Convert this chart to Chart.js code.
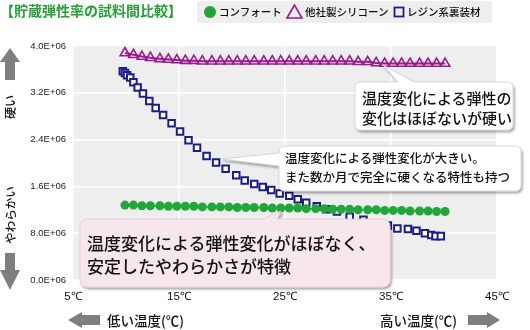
<!DOCTYPE html>
<html>
<head>
<meta charset="utf-8">
<script src="https://cdn.jsdelivr.net/npm/chart.js@4.4.0/dist/chart.umd.min.js"></script>
<style>
  html, body { margin: 0; padding: 0; background: #fff; }
  #wrap { position: relative; width: 530px; height: 330px; overflow: hidden;
          font-family: "Noto Sans CJK JP", sans-serif; color: #111; }
  #chart { position: absolute; left: 0; top: 0; }
  svg { position: absolute; left: 0; top: 0; }
  .t { position: absolute; white-space: nowrap; font-weight: 500; }
</style>
</head>
<body>
<div id="wrap">
  <canvas id="chart" width="530" height="330"></canvas>
  <svg width="530" height="330">
    <defs>
      <filter id="sh" x="-10%" y="-20%" width="130%" height="150%">
        <feDropShadow dx="1.5" dy="2" stdDeviation="1.2" flood-color="#000" flood-opacity="0.35"/>
      </filter>
    </defs>
    <!-- legend box -->
    <rect x="197" y="1" width="295" height="22" fill="#eeeeee"/>
    <circle cx="210" cy="12" r="6" fill="#22a63a"/>
    <polygon points="294.5,5 287,18 302,18" fill="none" stroke="#9b1a8e" stroke-width="1.6"/>
    <rect x="394.5" y="7.5" width="9" height="9" fill="none" stroke="#1c1c8c" stroke-width="1.8"/>
    <!-- side arrows -->
    <polygon points="10,48 0,62 20,62" fill="#7f7f7f"/>
    <rect x="5" y="62" width="10" height="18" fill="#7f7f7f"/>
    <rect x="5" y="253" width="10" height="17" fill="#7f7f7f"/>
    <polygon points="0,270 20,270 10,290" fill="#7f7f7f"/>
    <polygon points="68,320 82,312 82,328" fill="#7f7f7f"/>
    <rect x="82" y="315" width="18" height="10" fill="#7f7f7f"/>
    <rect x="468" y="315" width="19" height="10" fill="#7f7f7f"/>
    <polygon points="487,312 487,328 500,320" fill="#7f7f7f"/>
    <!-- callouts -->
    <path filter="url(#sh)" fill="#fff" stroke="#cfcfcf" stroke-width="0.8"
      d="M361,82 L398,82 L383,65 L414,82 L507,82 Q513,82 513,88 L513,124 Q513,130 507,130 L361,130 Q355,130 355,124 L355,88 Q355,82 361,82 Z"/>
    <path filter="url(#sh)" fill="#fff" stroke="#cfcfcf" stroke-width="0.8"
      d="M285,146 L515,146 Q521,146 521,152 L521,185 Q521,191 515,191 L285,191 Q279,191 279,185 L279,166 L222,159 L279,153 L279,152 Q279,146 285,146 Z"/>
    <path filter="url(#sh)" fill="#f7e6eb" stroke="#e3c9d2" stroke-width="0.8"
      d="M88,219 L263,219 L281,211 L277,219 L382,219 Q390,219 390,227 L390,279 Q390,287 382,287 L88,287 Q80,287 80,279 L80,227 Q80,219 88,219 Z"/>
  </svg>

  <div class="t" style="left:0;top:0;font-size:14px;line-height:20px;font-weight:bold;color:#27a036;">【貯蔵弾性率の試料間比較】</div>
  <div class="t" style="left:219px;top:4px;font-size:10.5px;line-height:16px;">コンフォート</div>
  <div class="t" style="left:305px;top:4px;font-size:10.5px;line-height:16px;">他社製シリコーン</div>
  <div class="t" style="left:407px;top:4px;font-size:10.5px;line-height:16px;">レジン系裏装材</div>

  <div class="t" style="left:10px;top:107px;font-size:12px;line-height:14px;transform:translate(-50%,-50%) rotate(-90deg);">硬い</div>
  <div class="t" style="left:10px;top:215px;font-size:11.5px;line-height:14px;transform:translate(-50%,-50%) rotate(-90deg);">やわらかい</div>

  <div class="t" style="left:107px;top:311px;font-size:13.5px;line-height:18px;">低い温度(℃)</div>
  <div class="t" style="left:380px;top:311px;font-size:13.5px;line-height:18px;">高い温度(℃)</div>

  <div class="t" style="left:362px;top:88px;font-size:15px;line-height:19.5px;">温度変化による弾性の<br>変化はほぼないが硬い</div>
  <div class="t" style="left:285px;top:148px;font-size:12.5px;line-height:19px;">温度変化による弾性変化が大きい。<br>また数か月で完全に硬くなる特性も持つ</div>
  <div class="t" style="left:87px;top:231px;font-size:17px;line-height:23px;">温度変化による弾性変化がほぼなく、<br>安定したやわらかさが特徴</div>
</div>

<script>
// temperature (℃) / storage modulus values
const tempTicks = [5, 15, 25, 35, 45];
const tempLabels = ['5℃', '15℃', '25℃', '35℃', '45℃'];
const modTicks = [0, 0.8e6, 1.6e6, 2.4e6, 3.2e6, 4.0e6];
const modLabels = ['0.0E+06', '8.0E+06', '1.6E+06', '2.4E+06', '3.2E+06', '4.0E+06'];

const seriesNames = ['コンフォート', '他社製シリコーン', 'レジン系裏装材'];

// shared temperatures for the two flat series
const flatTemps = [9.9, 10.7, 11.5, 12.3, 13.2, 14.0, 14.8, 15.6, 16.4, 17.2,
  18.1, 18.9, 19.7, 20.5, 21.3, 22.1, 23.0, 23.8, 24.6, 25.4,
  26.2, 27.0, 27.9, 28.7, 29.5, 30.3, 31.1, 31.9, 32.8, 33.6,
  34.4, 35.2, 36.0, 36.8, 37.7, 38.5, 39.3, 40.1];

const comfortVals = [1.28e6, 1.28e6, 1.27e6, 1.27e6, 1.27e6, 1.26e6, 1.26e6, 1.26e6, 1.26e6, 1.25e6,
  1.25e6, 1.25e6, 1.25e6, 1.24e6, 1.24e6, 1.24e6, 1.24e6, 1.23e6, 1.23e6, 1.23e6,
  1.23e6, 1.22e6, 1.22e6, 1.22e6, 1.21e6, 1.21e6, 1.21e6, 1.20e6, 1.20e6, 1.20e6,
  1.19e6, 1.19e6, 1.19e6, 1.18e6, 1.18e6, 1.18e6, 1.17e6, 1.17e6];

const siliconeVals = [3.88e6, 3.85e6, 3.82e6, 3.80e6, 3.78e6, 3.77e6, 3.76e6, 3.75e6, 3.75e6, 3.74e6,
  3.74e6, 3.74e6, 3.74e6, 3.74e6, 3.74e6, 3.74e6, 3.74e6, 3.74e6, 3.74e6, 3.74e6,
  3.74e6, 3.74e6, 3.74e6, 3.74e6, 3.74e6, 3.74e6, 3.74e6, 3.73e6, 3.73e6, 3.71e6,
  3.70e6, 3.70e6, 3.70e6, 3.70e6, 3.70e6, 3.70e6, 3.70e6, 3.70e6];

const resinTemps = [9.7, 9.9, 10.1, 10.4, 10.7, 11.1, 11.6, 12.2, 12.8, 13.5,
  14.3, 15.1, 15.9, 16.7, 17.6, 18.5, 19.4, 20.4, 21.2, 22.1,
  22.9, 23.7, 24.5, 25.4, 26.2, 27.0, 28.0, 28.9, 29.9, 31.1,
  32.4, 33.6, 34.7, 35.6, 36.6, 37.4, 38.2, 38.8, 39.2, 39.7];

const resinVals = [3.57e6, 3.54e6, 3.50e6, 3.46e6, 3.38e6, 3.29e6, 3.19e6, 3.06e6, 2.94e6, 2.82e6,
  2.68e6, 2.54e6, 2.39e6, 2.26e6, 2.12e6, 2.01e6, 1.90e6, 1.79e6, 1.70e6, 1.64e6,
  1.59e6, 1.54e6, 1.48e6, 1.44e6, 1.38e6, 1.32e6, 1.26e6, 1.21e6, 1.17e6, 1.08e6,
  1.03e6, 0.97e6, 0.93e6, 0.88e6, 0.87e6, 0.84e6, 0.80e6, 0.77e6, 0.75e6, 0.75e6];

const toPoints = (xs, ys) => xs.map((x, i) => ({ x: x, y: ys[i] }));

// gray plot background
const plotBg = {
  id: 'plotBg',
  beforeDraw(chart) {
    const a = chart.chartArea, ctx = chart.ctx;
    ctx.save();
    ctx.fillStyle = '#eeeeee';
    ctx.fillRect(a.left, a.top, a.right - a.left, a.bottom - a.top);
    ctx.restore();
  }
};

new Chart(document.getElementById('chart'), {
  type: 'scatter',
  data: {
    datasets: [
      {
        label: seriesNames[0],
        data: toPoints(flatTemps, comfortVals),
        showLine: true,
        borderColor: '#22a63a',
        borderWidth: 1.5,
        pointStyle: 'circle',
        pointRadius: 4.5,
        pointBackgroundColor: '#22a63a',
        pointBorderColor: '#22a63a',
        pointBorderWidth: 0
      },
      {
        label: seriesNames[1],
        data: toPoints(flatTemps, siliconeVals),
        showLine: true,
        borderColor: '#9b1a8e',
        borderWidth: 2,
        pointStyle: 'triangle',
        pointRadius: 5.5,
        pointBackgroundColor: 'rgba(0,0,0,0)',
        pointBorderColor: '#9b1a8e',
        pointBorderWidth: 1.6
      },
      {
        label: seriesNames[2],
        data: toPoints(resinTemps, resinVals),
        showLine: false,
        pointStyle: 'rect',
        pointRadius: 4.6,
        pointBackgroundColor: '#ffffff',
        pointBorderColor: '#1c1c8c',
        pointBorderWidth: 2
      }
    ]
  },
  options: {
    responsive: false,
    animation: false,
    devicePixelRatio: 1,
    layout: { padding: { left: 0, top: 46, right: 33, bottom: 0 } },
    plugins: { legend: { display: false }, tooltip: { enabled: false } },
    scales: {
      x: {
        type: 'linear',
        min: 5,
        max: 45,
        afterBuildTicks: s => { s.ticks = tempTicks.map(v => ({ value: v })); },
        afterFit: s => { s.height = 50; },
        border: { display: false },
        grid: { color: '#ffffff', lineWidth: 1.5, drawTicks: false },
        ticks: {
          padding: 10,
          color: '#111',
          font: { family: 'Arial, "Liberation Sans", sans-serif', size: 11.5 },
          callback: (v, i) => tempLabels[i]
        }
      },
      y: {
        min: 0,
        max: 4.0e6,
        afterBuildTicks: s => { s.ticks = modTicks.map(v => ({ value: v })); },
        afterFit: s => { s.width = 73; },
        border: { display: false },
        grid: { color: '#ffffff', lineWidth: 1.5, drawTicks: false },
        ticks: {
          padding: 7,
          color: '#222',
          font: { family: 'Arial, "Liberation Sans", sans-serif', size: 9.5 },
          callback: (v, i) => modLabels[i]
        }
      }
    }
  },
  plugins: [plotBg]
});
</script>
</body>
</html>
